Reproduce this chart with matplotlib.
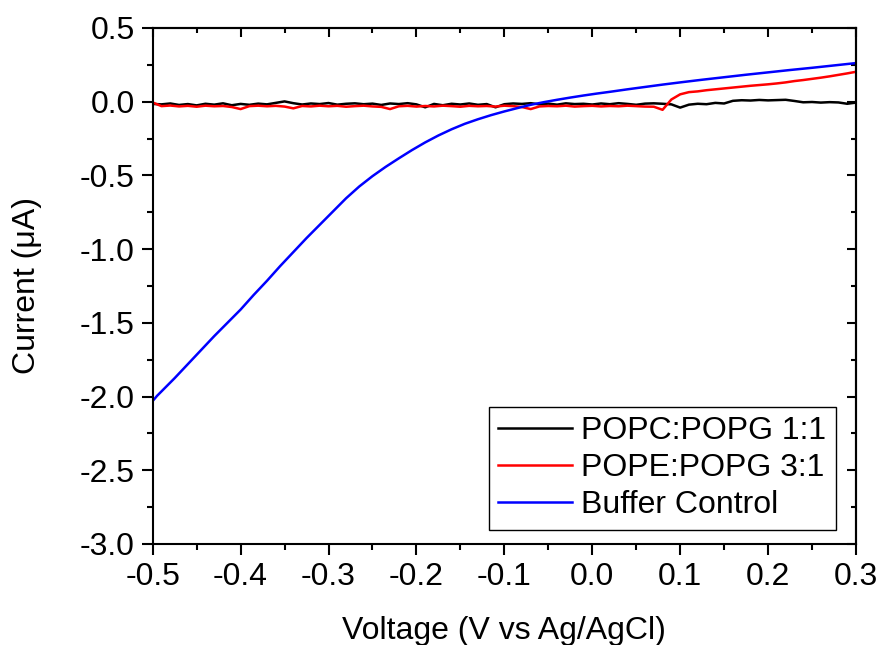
import numpy as np
import matplotlib
matplotlib.use('Agg')
import matplotlib.pyplot as plt
from matplotlib.ticker import MultipleLocator

plt.rcParams['font.family'] = ['Liberation Sans', 'DejaVu Sans']

# voltage grid for the two lipid traces (V vs Ag/AgCl)
volt = np.round(np.arange(-0.50, 0.3001, 0.01), 2)

popc_popg = [
    -0.015, -0.018, -0.012, -0.022, -0.016, -0.025, -0.014, -0.020, -0.011, -0.024,
    -0.015, -0.021, -0.013, -0.018, -0.008, 0.002, -0.010, -0.019, -0.012, -0.016,
    -0.009, -0.020, -0.014, -0.011, -0.017, -0.013, -0.022, -0.012, -0.016, -0.010,
    -0.018, -0.038, -0.015, -0.024, -0.014, -0.019, -0.012, -0.021, -0.016, -0.038,
    -0.017, -0.012, -0.015, -0.010, -0.018, -0.013, -0.020, -0.011, -0.016, -0.014,
    -0.019, -0.012, -0.017, -0.010, -0.015, -0.021, -0.013, -0.011, -0.014, -0.018,
    -0.040, -0.020, -0.014, -0.017, -0.008, -0.012, 0.006, 0.010, 0.008, 0.012,
    0.009, 0.011, 0.013, 0.005, -0.004, -0.002, -0.006, -0.003, -0.005, -0.014,
    -0.006,
]

pope_popg = [
    -0.005, -0.030, -0.026, -0.032, -0.028, -0.034, -0.027, -0.031, -0.029, -0.036,
    -0.050, -0.030, -0.027, -0.031, -0.028, -0.033, -0.045, -0.029, -0.032, -0.027,
    -0.031, -0.028, -0.034, -0.030, -0.027, -0.032, -0.035, -0.050, -0.031, -0.028,
    -0.033, -0.029, -0.032, -0.027, -0.030, -0.034, -0.028, -0.031, -0.029, -0.033,
    -0.027, -0.030, -0.036, -0.050, -0.032, -0.029, -0.031, -0.027, -0.033, -0.030,
    -0.028, -0.032, -0.029, -0.031, -0.027, -0.030, -0.033, -0.034, -0.055, 0.015,
    0.050, 0.065, 0.070, 0.078, 0.084, 0.090, 0.096, 0.102, 0.108, 0.113,
    0.118, 0.124, 0.131, 0.140, 0.147, 0.155, 0.163, 0.172, 0.182, 0.192,
    0.203,
]

# buffer control (smooth curve)
buf_volt = [-0.50, -0.495, -0.49, -0.475, -0.46, -0.445, -0.43, -0.415, -0.40, -0.385,
            -0.37, -0.355, -0.34, -0.325, -0.31, -0.295, -0.28, -0.265, -0.25, -0.235,
            -0.22, -0.205, -0.19, -0.175, -0.16, -0.145, -0.13, -0.115, -0.10, -0.085,
            -0.07, -0.055, -0.04, -0.025, -0.01, 0.005, 0.02, 0.04, 0.06, 0.08,
            0.10, 0.125, 0.15, 0.175, 0.20, 0.225, 0.25, 0.275, 0.30]
buffer_ctrl = [-2.03, -1.995, -1.965, -1.875, -1.78, -1.685, -1.59, -1.50, -1.41, -1.31,
               -1.215, -1.115, -1.02, -0.925, -0.835, -0.745, -0.655, -0.575, -0.505, -0.442,
               -0.384, -0.328, -0.276, -0.229, -0.187, -0.150, -0.119, -0.091, -0.066, -0.043,
               -0.021, -0.003, 0.013, 0.028, 0.042, 0.055, 0.067, 0.084, 0.100, 0.116,
               0.131, 0.149, 0.166, 0.183, 0.199, 0.215, 0.230, 0.246, 0.262]

labels = ['POPC:POPG 1:1', 'POPE:POPG 3:1', 'Buffer Control']
colors = ['black', 'red', 'blue']

fig = plt.figure(figsize=(8.8, 6.45), dpi=100)
ax = fig.add_axes([0.1735, 0.1566, 0.7992, 0.8])

ax.plot(volt, popc_popg, color=colors[0], lw=1.8, label=labels[0])
ax.plot(volt, pope_popg, color=colors[1], lw=1.8, label=labels[1])
ax.plot(buf_volt, buffer_ctrl, color=colors[2], lw=1.8, label=labels[2])

ax.set_xlim(-0.5, 0.3)
ax.set_ylim(-3.0, 0.5)
ax.xaxis.set_major_locator(MultipleLocator(0.1))
ax.xaxis.set_minor_locator(MultipleLocator(0.05))
ax.yaxis.set_major_locator(MultipleLocator(0.5))
ax.yaxis.set_minor_locator(MultipleLocator(0.25))
ax.xaxis.set_major_formatter(plt.FormatStrFormatter('%.1f'))
ax.yaxis.set_major_formatter(plt.FormatStrFormatter('%.1f'))

for s in ax.spines.values():
    s.set_linewidth(1.5)

ax.tick_params(which='major', direction='out', length=8, width=1.5, labelsize=23, pad=5)
ax.tick_params(which='minor', direction='out', length=4.5, width=1.5)

# top / right: inward ticks, no labels
top = ax.secondary_xaxis('top')
top.xaxis.set_major_locator(MultipleLocator(0.1))
top.xaxis.set_minor_locator(MultipleLocator(0.05))
top.tick_params(which='major', direction='in', length=6.5, width=1.5, labeltop=False)
top.tick_params(which='minor', direction='in', length=3.5, width=1.5)
right = ax.secondary_yaxis('right')
right.yaxis.set_major_locator(MultipleLocator(0.5))
right.yaxis.set_minor_locator(MultipleLocator(0.25))
right.tick_params(which='major', direction='in', length=6.5, width=1.5, labelright=False)
right.tick_params(which='minor', direction='in', length=3.5, width=1.5)
for sec in (top, right):
    for s in sec.spines.values():
        s.set_linewidth(1.5)

ax.set_xlabel('Voltage (V vs Ag/AgCl)', fontsize=23)
ax.set_ylabel('Current (\u03bcA)', fontsize=23)
ax.xaxis.set_label_coords(0.5, -0.14)
ax.yaxis.set_label_coords(-0.157, 0.5)

leg = ax.legend(loc='lower right', bbox_to_anchor=(0.9716, 0.0271), borderaxespad=0,
                fontsize=23, fancybox=False, edgecolor='black', framealpha=1,
                handlelength=2.3, handletextpad=0.3, labelspacing=0.22, borderpad=0.3)
leg.get_frame().set_linewidth(1.0)

fig.savefig('out.png', dpi=100)
